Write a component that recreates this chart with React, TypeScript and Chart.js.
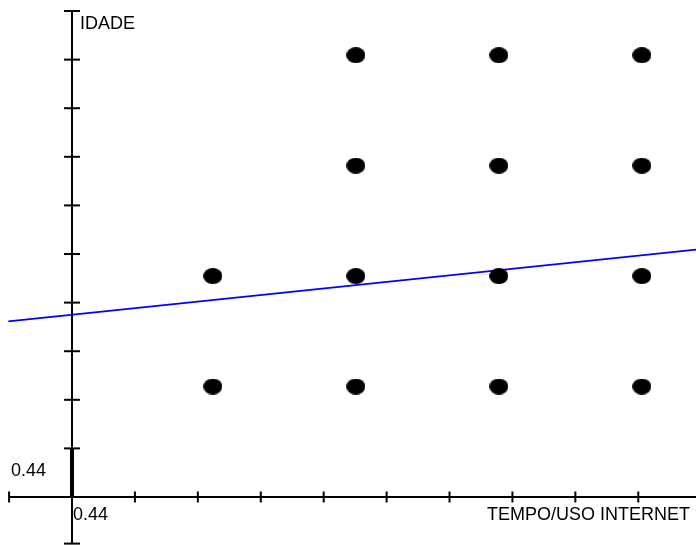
import React, { useEffect, useRef } from "react";
import { Chart, registerables } from "chart.js";

Chart.register(...registerables);

// Data
const tempoValues = [1, 1, 2, 2, 2, 2, 3, 3, 3, 3, 4, 4, 4, 4];
const idadeValues = [1, 2, 1, 2, 3, 4, 1, 2, 3, 4, 1, 2, 3, 4];
const trendX = [-0.43, 4.38];
const trendY = [1.59, 2.24];

// Axis setup
const xTitle = "TEMPO/USO INTERNET";
const yTitle = "IDADE";
const tickStep = 0.44;
const tickLabel = "0.44";
const xOrigin = 0.015;
const yOrigin = 0;
const xTicksBefore = 1;
const xTicksAfter = 9;
const yTicksBefore = 1;
const yTicksAfter = 10;

const W = 696;
const H = 545;

function makeEllipse(): HTMLCanvasElement {
  const c = document.createElement("canvas");
  c.width = 19;
  c.height = 16;
  const ctx = c.getContext("2d")!;
  ctx.fillStyle = "#000";
  ctx.beginPath();
  ctx.ellipse(9.5, 8, 9.5, 8, 0, 0, Math.PI * 2);
  ctx.fill();
  return c;
}

const axesPlugin = {
  id: "customAxes",
  beforeDatasetsDraw(chart: any) {
    const { ctx } = chart;
    const xs = chart.scales.x;
    const ys = chart.scales.y;
    const ox = xs.getPixelForValue(xOrigin);
    const oy = ys.getPixelForValue(yOrigin);
    ctx.save();
    ctx.strokeStyle = "#000";
    ctx.lineWidth = 2;
    // x axis
    const xLeft = xs.getPixelForValue(xOrigin - xTicksBefore * tickStep);
    ctx.beginPath();
    ctx.moveTo(xLeft, oy);
    ctx.lineTo(W, oy);
    ctx.stroke();
    for (let i = -xTicksBefore; i <= xTicksAfter; i++) {
      if (i === 0) continue;
      const px = xs.getPixelForValue(xOrigin + i * tickStep);
      ctx.beginPath();
      ctx.moveTo(px, oy - 5.5);
      ctx.lineTo(px, oy + 5.5);
      ctx.stroke();
    }
    // y axis
    const yBottom = ys.getPixelForValue(yOrigin - yTicksBefore * tickStep) - 2;
    const yTop = ys.getPixelForValue(yOrigin + yTicksAfter * tickStep);
    ctx.beginPath();
    ctx.moveTo(ox, yBottom);
    ctx.lineTo(ox, yTop);
    ctx.stroke();
    for (let i = 1; i <= yTicksAfter; i++) {
      const py = ys.getPixelForValue(yOrigin + i * tickStep);
      ctx.beginPath();
      ctx.moveTo(ox - 8, py);
      ctx.lineTo(ox + 8, py);
      ctx.stroke();
    }
    ctx.beginPath();
    ctx.moveTo(ox - 8, yBottom);
    ctx.lineTo(ox + 8, yBottom);
    ctx.stroke();
    // bold first segment
    ctx.lineWidth = 4;
    ctx.beginPath();
    ctx.moveTo(ox, oy);
    ctx.lineTo(ox, ys.getPixelForValue(yOrigin + tickStep));
    ctx.stroke();

    // labels
    ctx.fillStyle = "#000";
    ctx.font = '18px "Liberation Sans", Arial, sans-serif';
    ctx.textBaseline = "alphabetic";
    ctx.textAlign = "left";
    ctx.fillText(yTitle, ox + 8, yTop + 18);
    ctx.fillText(tickLabel, ox + 1, oy + 23);
    ctx.fillText(tickLabel, 11, ys.getPixelForValue(yOrigin + tickStep / 2) + 3);
    ctx.textAlign = "right";
    ctx.fillText(xTitle, W - 6, oy + 23);
    ctx.restore();
  },
};

export default function App() {
  const ref = useRef<HTMLCanvasElement>(null);
  useEffect(() => {
    if (!ref.current) return;
    const ellipse = makeEllipse();
    const xMin = xOrigin - 72 / 143;
    const xMax = xOrigin + (W - 72) / 143;
    const pxPerY = 110.45;
    const yMax = yOrigin + 497 / pxPerY;
    const yMin = yOrigin - (H - 497) / pxPerY;
    const chart = new Chart(ref.current, {
      type: "scatter",
      data: {
        datasets: [
          {
            label: "pontos",
            data: tempoValues.map((x, i) => ({ x, y: idadeValues[i] })),
            pointStyle: ellipse as any,
            pointRadius: 9,
            backgroundColor: "#000",
            borderColor: "#000",
          },
          {
            label: "tendência",
            data: trendX.map((x, i) => ({ x, y: trendY[i] })),
            showLine: true,
            pointRadius: 0,
            borderColor: "#0000ff",
            borderWidth: 1.8,
            fill: false,
          },
        ],
      },
      options: {
        responsive: false,
        animation: false,
        devicePixelRatio: 1,
        layout: { padding: 0, autoPadding: false },
        plugins: {
          legend: { display: false },
          tooltip: { enabled: false },
        },
        scales: {
          x: { type: "linear", display: false, min: xMin, max: xMax },
          y: { type: "linear", display: false, min: yMin, max: yMax },
        },
      },
      plugins: [axesPlugin],
    });
    return () => chart.destroy();
  }, []);
  return (
    <canvas
      ref={ref}
      width={W}
      height={H}
      style={{ position: "absolute", left: 0, top: 0, width: W, height: H }}
    />
  );
}
